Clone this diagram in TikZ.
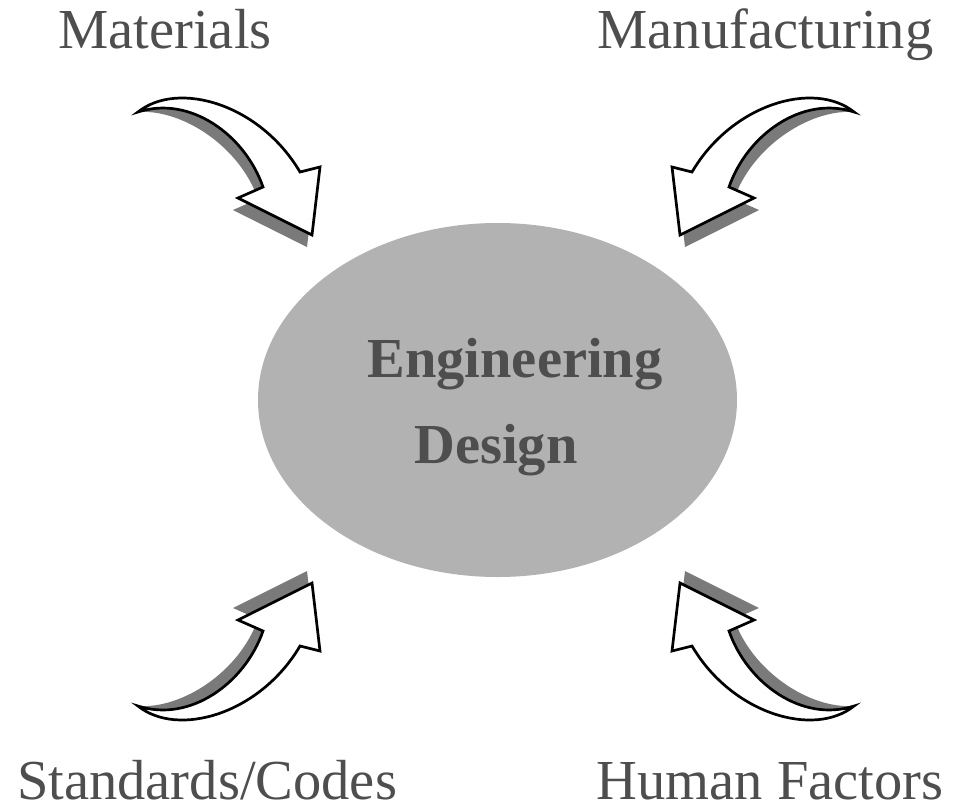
\documentclass[tikz,border=0pt]{standalone}
\usepackage{fontspec}
\setmainfont{Liberation Serif}
\usetikzlibrary{shapes.geometric}
\begin{document}
\definecolor{inkgray}{RGB}{78,78,78}
\definecolor{discgray}{RGB}{178,178,178}
\definecolor{shadegray}{RGB}{122,122,122}
\tikzset{
  label text/.style={inner sep=0pt, text=inkgray, font=\fontsize{56.5bp}{60bp}\selectfont},
  core text/.style={inner sep=0pt, text=inkgray, font=\fontsize{56.5bp}{60bp}\selectfont\bfseries},
  arrow body/.style={fill=white, draw=black, line width=2.7bp, line join=miter},
  arrow shade/.style={fill=shadegray, draw=none}
}
% One curved block arrow (top-left orientation); the others are its mirror images
\newcommand{\curvedblockarrow}{%
  \fill[arrow shade] (138,112) .. controls (173,92) and (255,116) .. (295,184)
    -- (315,179) -- (307,247) -- (233,210) -- (258,199)
    .. controls (240,147) and (183,109) .. (138,112) -- cycle;
  \draw[arrow body] (138,112) .. controls (178,80) and (260,104) .. (300,172)
    -- (320,167) -- (312,235) -- (238,198) -- (263,187)
    .. controls (245,135) and (190,95) .. cycle;
}
\begin{tikzpicture}[x=1bp, y=-1bp]
  \useasboundingbox (0,0) rectangle (953,810);
  \fill[white] (0,0) rectangle (953,810);

  % central disc
  \node[ellipse, fill=discgray, minimum width=479bp, minimum height=354bp, inner sep=0pt] (core) at (497.5,400) {};
  \node[core text, anchor=base] (eng) at (515,377) {Engineering};
  \node[core text, anchor=base] (des) at (496,463) {Design};

  % four arrows pointing at the disc
  \begin{scope}
    \curvedblockarrow
  \end{scope}
  \begin{scope}[xshift=992bp, xscale=-1]
    \curvedblockarrow
  \end{scope}
  \begin{scope}[yshift=-818bp, yscale=-1]
    \curvedblockarrow
  \end{scope}
  \begin{scope}[xshift=992bp, xscale=-1, yshift=-818bp, yscale=-1]
    \curvedblockarrow
  \end{scope}

  % influence labels
  \node[label text, anchor=base] (mat) at (165,49) {Materials};
  \node[label text, anchor=base] (man) at (765.5,49) {Manufacturing};
  \node[label text, anchor=base west] (std) at (17,799) {Standards/Codes};
  \node[label text, anchor=base] (hum) at (770,799) {Human Factors};
\end{tikzpicture}
\end{document}
